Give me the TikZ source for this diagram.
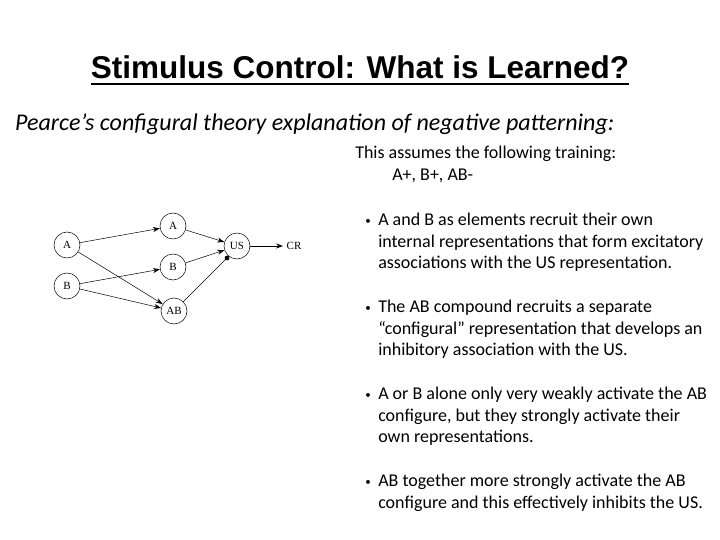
\documentclass[tikz,border=0pt]{standalone}
\usepackage{fontspec}
\setmainfont{Carlito}
\newfontfamily\titlefont{Liberation Sans}
\newfontfamily\netfont{Liberation Serif}
\usetikzlibrary{arrows.meta}

\begin{document}
\begin{tikzpicture}[x=1pt, y=-1pt, line width=0.5pt,
  unit/.style={draw, circle, minimum size=26pt, inner sep=0pt, font=\netfont\fontsize{11}{13}\selectfont},
  link/.style={-{Stealth[length=7pt,width=5pt]}},
  para/.style={anchor=north west, inner sep=0pt, align=left, font=\fontsize{18}{21.6}\selectfont},
  dotmark/.style={inner sep=0pt, font=\fontsize{11}{13}\selectfont}]
\useasboundingbox (0,0) rectangle (720,540);

% heading
\node [anchor=base, inner sep=0pt, font=\titlefont\bfseries\fontsize{31.5}{34}\selectfont] (title) at (360,79) {Stimulus Control: What is Learned?};
\draw [line width=1.8pt] ([yshift=-5pt]title.base west) -- ([yshift=-5pt]title.base east);
\node [anchor=base west, inner sep=0pt, font=\itshape\fontsize{24}{28}\selectfont] (sub) at (15,131) {Pearce’s configural theory explanation of negative patterning:};

% network
\node [unit] (inA) at (67,245) {A};
\node [unit] (inB) at (67,286) {B};
\node [unit] (hA) at (173,226) {A};
\node [unit] (hB) at (173,267) {B};
\node [unit] (hAB) at (174,311) {AB};
\node [unit] (us) at (237,246) {US};
\node [font=\netfont\fontsize{11}{13}\selectfont] (cr) at (294,246) {CR};
\coordinate (inh) at (227,258);

\draw [link] (inA) -- (hA);
\draw [link] (inA) -- (hAB);
\draw [link] (inB) -- (hB);
\draw [link] (inB) -- (hAB);
\draw [link] (hA) -- (us);
\draw [link] (hB) -- (us);
\draw (hAB) -- (inh);
\fill (inh) circle (2.4pt);
\draw [link, line width=0.9pt] (us) -- (cr);

% text
\node [para] (train) at (355,146) {This assumes the following training:\\\hspace*{37pt}A+, B+, AB-};

\node [dotmark] (b1) at (368,222) {•};
\node [para] (p1) at (378,213) {A and B as elements recruit their own\\internal representations that form excitatory\\associations with the US representation.};
\node [dotmark] (b2) at (368,309) {•};
\node [para] (p2) at (378,300) {The AB compound recruits a separate\\“configural” representation that develops an\\inhibitory association with the US.};
\node [dotmark] (b3) at (368,396) {•};
\node [para] (p3) at (378,387) {A or B alone only very weakly activate the AB\\configure, but they strongly activate their\\own representations.};
\node [dotmark] (b4) at (368,483) {•};
\node [para] (p4) at (378,474) {AB together more strongly activate the AB\\configure and this effectively inhibits the US.};
\end{tikzpicture}
\end{document}
